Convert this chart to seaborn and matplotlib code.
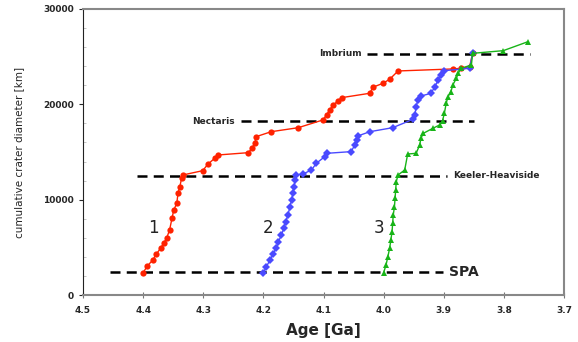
import numpy as np
import pandas as pd
import matplotlib
matplotlib.use("Agg")
import matplotlib.pyplot as plt
import seaborn as sns

# curve 1 (red)
age1 = [4.400, 4.393, 4.384, 4.378, 4.371, 4.366, 4.361, 4.356, 4.352, 4.349, 4.344, 4.342, 4.339, 4.336, 4.334,
        4.301, 4.292, 4.281, 4.275, 4.225, 4.219, 4.214, 4.212, 4.187, 4.142, 4.101, 4.095, 4.090, 4.084, 4.076,
        4.070, 4.023, 4.018, 4.001, 3.990, 3.976, 3.885, 3.871, 3.857, 3.852]
diam1 = [2340, 3040, 3670, 4300, 4900, 5420, 5950, 6820, 8050, 8920, 9620, 10670, 11360, 12240, 12590,
         13040, 13740, 14340, 14690, 14930, 15390, 15980, 16610, 17130, 17550, 18360, 18880, 19400, 19930, 20350,
         20700, 21160, 21790, 22210, 22630, 23500, 23710, 23780, 23950, 25350]

# curve 2 (blue)
age2 = [4.200, 4.195, 4.189, 4.184, 4.179, 4.175, 4.170, 4.166, 4.163, 4.159, 4.156, 4.153, 4.151, 4.149, 4.147,
        4.145, 4.134, 4.120, 4.112, 4.098, 4.095, 4.054, 4.048, 4.045, 4.043, 4.023, 3.985, 3.951, 3.948, 3.946,
        3.943, 3.938, 3.921, 3.915, 3.909, 3.904, 3.899, 3.857, 3.852]
diam2 = [2340, 2970, 3670, 4300, 4900, 5590, 6290, 7000, 7690, 8390, 9260, 9970, 10670, 11360, 12060,
         12590, 12700, 13110, 13810, 14510, 14860, 15040, 15740, 16260, 16680, 17130, 17550, 18430, 18880, 19750,
         20450, 20870, 21160, 21850, 22550, 23080, 23530, 23780, 25350]

# curve 3 (green)
age3 = [4.000, 3.996, 3.993, 3.990, 3.988, 3.986, 3.985, 3.984, 3.982, 3.981, 3.980, 3.979, 3.976, 3.965, 3.960,
        3.946, 3.940, 3.938, 3.934, 3.918, 3.907, 3.902, 3.899, 3.896, 3.893, 3.888, 3.885, 3.879, 3.876, 3.871,
        3.854, 3.852, 3.801, 3.760]
diam3 = [2340, 3150, 4020, 4900, 5770, 6640, 7520, 8390, 9260, 10140, 11010, 11890, 12590, 13110, 14790,
         14860, 15740, 16440, 16960, 17490, 17830, 18290, 19060, 20100, 20800, 21330, 22030, 22730, 23260, 23780,
         24130, 25350, 25630, 26570]

# basin reference levels
basins = ["SPA", "Keeler-Heaviside", "Nectaris", "Imbrium"]
basin_level = [2400, 12500, 18250, 25300]
basin_from = [4.455, 4.41, 4.237, 4.027]
basin_to = [3.902, 3.895, 3.85, 3.756]

df = pd.concat([
    pd.DataFrame({"age": age1, "diam": diam1, "model": "1"}),
    pd.DataFrame({"age": age2, "diam": diam2, "model": "2"}),
    pd.DataFrame({"age": age3, "diam": diam3, "model": "3"}),
])

sns.set_style("ticks")
fig = plt.figure(figsize=(5.78, 3.42), dpi=100)
ax = fig.add_axes([0.1436, 0.1374, 0.8322, 0.8363])

palette = {"1": "#ff2200", "2": "#4a4aff", "3": "#18b418"}
markers = {"1": "o", "2": "D", "3": "^"}
sns.lineplot(data=df, x="age", y="diam", hue="model", style="model", palette=palette,
             markers=markers, dashes=False, sort=False, estimator=None, ax=ax,
             lw=1, markersize=4.5, markeredgewidth=0, legend=False)

# dashed basin lines
for name, lev, x0, x1 in zip(basins, basin_level, basin_from, basin_to):
    ax.plot([x0, x1], [lev, lev], ls=(0, (4, 2.5)), color="black", lw=1.8, zorder=1)

ax.text(3.892, 2400, "SPA", fontsize=10, fontweight="bold", va="center", ha="left")
ax.text(3.885, 12500, "Keeler-Heaviside", fontsize=6.5, fontweight="bold", va="center", ha="left")
ax.text(4.247, 18250, "Nectaris", fontsize=6.5, fontweight="bold", va="center", ha="right")
ax.text(4.037, 25300, "Imbrium", fontsize=6.5, fontweight="bold", va="center", ha="right")

for lab, x in zip(["1", "2", "3"], [4.383, 4.193, 4.008]):
    ax.text(x, 7000, lab, fontsize=12, color="#222222", ha="center", va="center")

ax.set_xlim(4.5, 3.7)
ax.set_ylim(0, 30000)
ax.set_xticks(np.arange(3.7, 4.51, 0.1))
ax.set_xticklabels([f"{v:.1f}" for v in np.arange(3.7, 4.51, 0.1)])
ax.set_yticks([0, 10000, 20000, 30000])
ax.set_yticks(np.arange(0, 30001, 2000), minor=True)
ax.tick_params(axis="x", labelsize=6.5, direction="inout", length=4, color="#777777", pad=6)
ax.tick_params(axis="y", labelsize=6.5, direction="out", length=3)
ax.tick_params(axis="y", which="minor", length=2, direction="in", color="#bbbbbb")
for t in ax.get_xticklabels() + ax.get_yticklabels():
    t.set_fontweight("bold")

ax.set_xlabel("Age [Ga]", fontsize=11, fontweight="bold", labelpad=6)
ax.set_ylabel("cumulative crater diameter [km]", fontsize=7.5, labelpad=14)

for s in ["top", "right", "bottom"]:
    ax.spines[s].set_visible(True)
    ax.spines[s].set_color("#888888")
    ax.spines[s].set_linewidth(1.5)
ax.spines["left"].set_color("#222222")

fig.savefig("out.png", dpi=100)
